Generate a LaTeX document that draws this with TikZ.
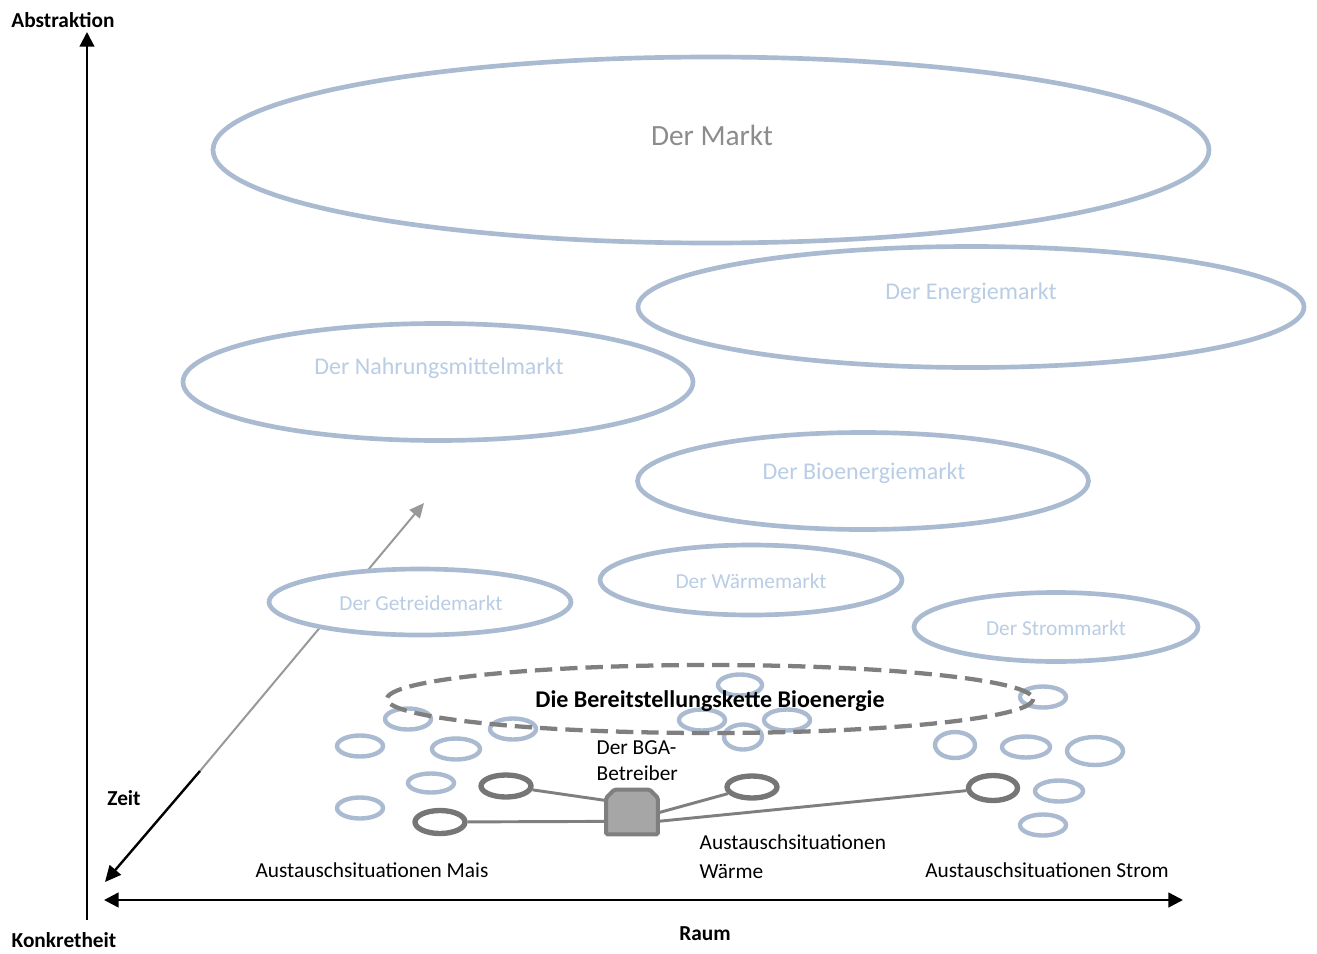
\documentclass[tikz,border=0pt]{standalone}
\usepackage{fontspec}
\setmainfont{Carlito}
\usetikzlibrary{arrows.meta,positioning,shapes.geometric}
\definecolor{ellblue}{RGB}{170,187,209}
\definecolor{mkttext}{RGB}{185,205,229}
\definecolor{linegray}{RGB}{127,127,127}
\definecolor{darkell}{RGB}{118,118,118}
\begin{document}
\begin{tikzpicture}[x=0.75pt, y=-0.75pt, >=Triangle,
  mkt/.style 2 args={ellipse, draw=ellblue, line width=3.5pt, fill=white, inner sep=0pt,
    minimum width=#1*0.75pt, minimum height=#2*0.75pt},
  sit/.style 2 args={mkt={#1}{#2}, line width=3.3pt},
  dsit/.style 2 args={mkt={#1}{#2}, draw=darkell, line width=4pt},
  mktlbl/.style={font=\fontsize{18}{20}\selectfont, text=mkttext},
  smlbl/.style={font=\fontsize{16}{18}\selectfont, text=mkttext},
  lbl/.style={font=\fontsize{16}{19.5}\selectfont, align=left},
  axlbl/.style={font=\fontsize{16}{18}\selectfont\bfseries},
  link/.style={draw=linegray, line width=2.2pt}]
  \useasboundingbox (0,0) rectangle (1317,953);
  % Zeit
  \coordinate (zeit0) at (105,882);
  \coordinate (zeitk) at (200,771);
  \coordinate (zeit1) at (424,503);
  \draw[->, gray!80, line width=1.5pt, arrows={-Triangle[length=11pt,width=10pt]}] (zeitk) -- (zeit1);
  \draw[black, line width=1.8pt, arrows={-Triangle[length=12pt,width=11pt]}] (zeitk) -- (zeit0);
  % Maerkte
  \node[mkt={996}{186}] (markt) at (711,150) {};
  \node[font=\fontsize{22}{24}\selectfont, text=black!45] (marktlbl) at (712,135) {Der Markt};
  \node[mkt={666}{121}] (energie) at (971,307) {};
  \node[mktlbl] (energielbl) at (971,293) {Der Energiemarkt};
  \node[mkt={510}{117}] (nahrung) at (438,382) {};
  \node[mktlbl] (nahrunglbl) at (439,368) {Der Nahrungsmittelmarkt};
  \node[mkt={451}{97}] (bioen) at (863,481) {};
  \node[mktlbl] (bioenlbl) at (864,473) {Der Bioenergiemarkt};
  \node[mkt={302}{70}] (waerme) at (751,580) {};
  \node[smlbl] (waermelbl) at (751,581) {Der Wärmemarkt};
  \node[mkt={302}{66}] (getreide) at (420,602) {};
  \node[smlbl] (getreidelbl) at (421,603) {Der Getreidemarkt};
  \node[mkt={284}{69}] (strom) at (1056,627) {};
  \node[smlbl] (stromlbl) at (1056,628) {Der Strommarkt};
  % Austauschsituationen
  \node[sit={46}{21}] (a1) at (408,719) {};
  \node[sit={46}{21}] (a2) at (360,746) {};
  \node[sit={48}{21}] (a3) at (456,749) {};
  \node[sit={46}{21}] (a4) at (513,729) {};
  \node[sit={46}{19}] (a5) at (431,783) {};
  \node[sit={46}{21}] (a6) at (360,808) {};
  \node[sit={44}{21}] (b1) at (740,685) {};
  \node[sit={46}{21}] (b2) at (702,720) {};
  \node[sit={46}{21}] (b3) at (787,720) {};
  \node[sit={38}{25}] (b4) at (743,737) {};
  \node[sit={46}{21}] (c1) at (1043,697) {};
  \node[sit={40}{26}] (c2) at (955,745) {};
  \node[sit={48}{21}] (c3) at (1026,747) {};
  \node[sit={56}{28}] (c4) at (1095,751) {};
  \node[sit={48}{21}] (c5) at (1059,791) {};
  \node[sit={46}{21}] (c6) at (1043,825) {};
  \node[dsit={50}{22}] (mais1) at (506,786) {};
  \node[dsit={50}{23}] (mais2) at (440,822) {};
  \node[dsit={50}{22}] (waerme1) at (752,787) {};
  \node[dsit={49}{25}] (strom1) at (993,788) {};
  % Bereitstellungskette
  \draw[linegray, line width=3.2pt, dash pattern=on 13pt off 6pt] (710,699) ellipse (323 and 34);
  \node[font=\fontsize{18}{20}\selectfont\bfseries] (kette) at (710,701) {Die Bereitstellungskette Bioenergie};
  % BGA-Betreiber
  \node[minimum width=51*0.75pt, minimum height=44*0.75pt, inner sep=0pt] (bga) at (632,812) {};
  \draw[draw=linegray, fill=black!35, line width=3pt, rounded corners=1pt]
    (bga.south west) -- ([yshift=-6pt]bga.north west) -- ([xshift=6pt]bga.north west)
    -- ([xshift=-6pt]bga.north east) -- ([yshift=-6pt]bga.north east) -- (bga.south east) -- cycle;
  \node[lbl, anchor=west] (bgalbl) at (592,761) {Der BGA-\\Betreiber};
  \draw[link] (bga.156) -- (mais1);
  \draw[link] (bga.200) -- (mais2);
  \draw[link] (bga.-2) -- (waerme1);
  \draw[link] (bga.-20) -- (strom1);
  \node[lbl, anchor=west, font=\fontsize{16}{21.75}\selectfont] (waermesit) at (695,857) {Austauschsituationen\\Wärme};
  \node[lbl] (maissit) at (372,870) {Austauschsituationen Mais};
  \node[lbl] (stromsit) at (1047,870) {Austauschsituationen Strom};
  % Achsen
  \coordinate (v0) at (87,920);
  \coordinate (v1) at (87,32);
  \coordinate (h0) at (104,900);
  \coordinate (h1) at (1183,900);
  \draw[line width=1.6pt, arrows={-Triangle[length=11pt,width=11pt]}] (v0) -- (v1);
  \draw[line width=1.9pt, arrows={Triangle[length=11pt,width=11pt]-Triangle[length=11pt,width=11pt]}] (h0) -- (h1);
  \node[axlbl] (abstr) at (63,20) {Abstraktion};
  \node[axlbl, inner sep=1pt] (konkr) at (64,940) {Konkretheit};
  \node[axlbl] (zeitlbl) at (124,798) {Zeit};
  \node[axlbl] (raumlbl) at (705,934) {Raum};
\end{tikzpicture}
\end{document}
